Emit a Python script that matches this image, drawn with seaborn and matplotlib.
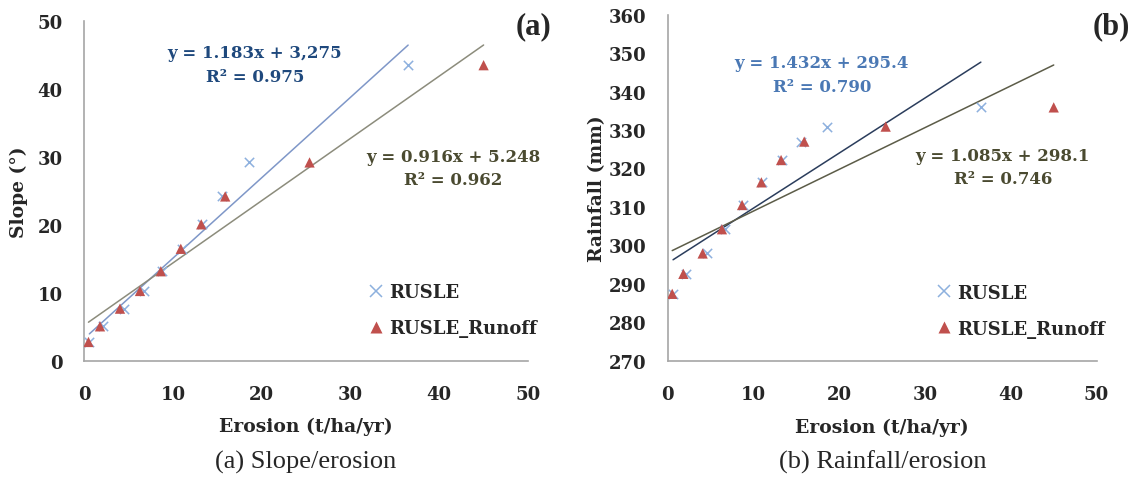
import pandas as pd
import numpy as np
import matplotlib.pyplot as plt
from matplotlib.lines import Line2D
import seaborn as sns

# erosion classes (t/ha/yr) for both models
rusle_x = [0.6, 2.1, 4.5, 6.7, 8.8, 11.0, 13.3, 15.5, 18.6, 36.5]
runoff_x = [0.5, 1.8, 4.05, 6.3, 8.65, 10.9, 13.2, 15.9, 25.4, 45.0]

# slope (deg) and rainfall (mm) of each class
slope = [2.8, 5.1, 7.7, 10.3, 13.2, 16.5, 20.1, 24.2, 29.2, 43.5]
rainfall = [287.4, 292.6, 297.9, 304.2, 310.5, 316.4, 322.2, 327.0, 330.9, 335.9]

# trend line coefficients (slope, intercept)
slope_fit = {'RUSLE': (1.183, 3.275), 'RUSLE_Runoff': (0.916, 5.248)}
rain_fit = {'RUSLE': (1.432, 295.4), 'RUSLE_Runoff': (1.085, 298.1)}

eq_a = {'RUSLE': 'y = 1.183x + 3,275\nR² = 0.975', 'RUSLE_Runoff': 'y = 0.916x + 5.248\nR² = 0.962'}
eq_b = {'RUSLE': 'y = 1.432x + 295.4\nR² = 0.790', 'RUSLE_Runoff': 'y = 1.085x + 298.1\nR² = 0.746'}

sns.set_theme(style="white")
plt.rcParams['font.family'] = ['DejaVu Serif', 'Liberation Serif']
TIMES = ['Liberation Serif', 'DejaVu Serif']

mk_col = {'RUSLE': '#8DB0DE', 'RUSLE_Runoff': '#C0504D'}


def make_df(yvals):
    d1 = pd.DataFrame({'x': rusle_x, 'y': yvals, 'model': 'RUSLE'})
    d2 = pd.DataFrame({'x': runoff_x, 'y': yvals, 'model': 'RUSLE_Runoff'})
    return pd.concat([d1, d2], ignore_index=True)


def fit_line(ax, xs, coef, color):
    m, b = coef
    xx = np.array([min(xs), max(xs)])
    sns.lineplot(x=xx, y=m * xx + b, ax=ax, color=color, lw=1.1, legend=False)


fig = plt.figure(figsize=(11.34, 4.81), dpi=100)
ax1 = fig.add_axes([0.0741, 0.2474, 0.3915, 0.7069])
ax2 = fig.add_axes([0.589, 0.248, 0.378, 0.7193])

panels = [
    (ax1, slope, slope_fit, (0, 50), 'Slope (°)', '(a)', '(a) Slope/erosion',
     {'RUSLE': '#7F97C8', 'RUSLE_Runoff': '#8C8C7C'}, -0.126, (1.052, 1.03), (0.617, 0.149)),
    (ax2, rainfall, rain_fit, (270, 360), 'Rainfall (mm)', '(b)', '(b) Rainfall/erosion',
     {'RUSLE': '#2B3D5C', 'RUSLE_Runoff': '#5C5C48'}, -0.145, (1.077, 1.01), (0.603, 0.145)),
]

for ax, yv, fit, ylim, ylab, tag, cap, lcol, ylx, tagpos, legpos in panels:
    df = make_df(yv)
    fit_line(ax, rusle_x, fit['RUSLE'], lcol['RUSLE'])
    fit_line(ax, runoff_x, fit['RUSLE_Runoff'], lcol['RUSLE_Runoff'])
    sns.scatterplot(data=df[df.model == 'RUSLE'], x='x', y='y', ax=ax, marker='x',
                    color=mk_col['RUSLE'], s=45, linewidth=1.1, legend=False, zorder=3)
    sns.scatterplot(data=df[df.model == 'RUSLE_Runoff'], x='x', y='y', ax=ax, marker='^',
                    color=mk_col['RUSLE_Runoff'], s=55, edgecolor='none', legend=False, zorder=4)

    ax.set_xlim(0, 50)
    ax.set_ylim(*ylim)
    ax.set_xticks(range(0, 51, 10))
    ax.set_yticks(np.arange(ylim[0], ylim[1] + 1, 10))
    for s in ['top', 'right']:
        ax.spines[s].set_visible(False)
    for s in ['left', 'bottom']:
        ax.spines[s].set_color('#A6A6A6')
        ax.spines[s].set_linewidth(1.2)
    ax.tick_params(axis='both', direction='out', length=4.5, width=1, color='#A6A6A6',
                   labelsize=13)
    ax.tick_params(axis='x', pad=13)
    ax.tick_params(axis='y', pad=11)
    for t in ax.get_xticklabels() + ax.get_yticklabels():
        t.set_fontweight('bold')
    ax.set_xlabel('Erosion (t/ha/yr)', fontsize=13.5, fontweight='bold')
    ax.set_ylabel(ylab, fontsize=13.5, fontweight='bold')
    ax.xaxis.set_label_coords(0.5, -0.165)
    ax.yaxis.set_label_coords(ylx, 0.5)

    ax.text(tagpos[0], tagpos[1], tag, transform=ax.transAxes, ha='right', va='top',
            fontsize=22, fontweight='bold', family=TIMES)

    handles = [Line2D([], [], marker='x', ls='none', color=mk_col['RUSLE'], ms=8, mew=1.1),
               Line2D([], [], marker='^', ls='none', color=mk_col['RUSLE_Runoff'], ms=8, mec='none')]
    ax.legend(handles, ['RUSLE', 'RUSLE_Runoff'], loc='center left', frameon=False,
              prop={'size': 13, 'weight': 'bold'}, handletextpad=0.1, handlelength=1.2,
              labelspacing=1.0, bbox_to_anchor=legpos, borderaxespad=0)

    # caption under each panel
    bb = ax.get_position()
    fig.text(bb.x0 + bb.width / 2, 0.0395, cap, ha='center', va='center', fontsize=19,
             family=TIMES)

# equations
eq_kw = dict(ha='center', va='center', fontsize=12, fontweight='bold', linespacing=1.5)
ax1.text(0.385, 0.872, eq_a['RUSLE'], transform=ax1.transAxes, color='#1F497D', **eq_kw)
ax1.text(0.831, 0.568, eq_a['RUSLE_Runoff'], transform=ax1.transAxes, color='#4A4A30', **eq_kw)
ax2.text(0.359, 0.827, eq_b['RUSLE'], transform=ax2.transAxes, color='#4A78B4', **eq_kw)
ax2.text(0.781, 0.56, eq_b['RUSLE_Runoff'], transform=ax2.transAxes, color='#4A4A30', **eq_kw)

fig.savefig('out.png', dpi=100)
